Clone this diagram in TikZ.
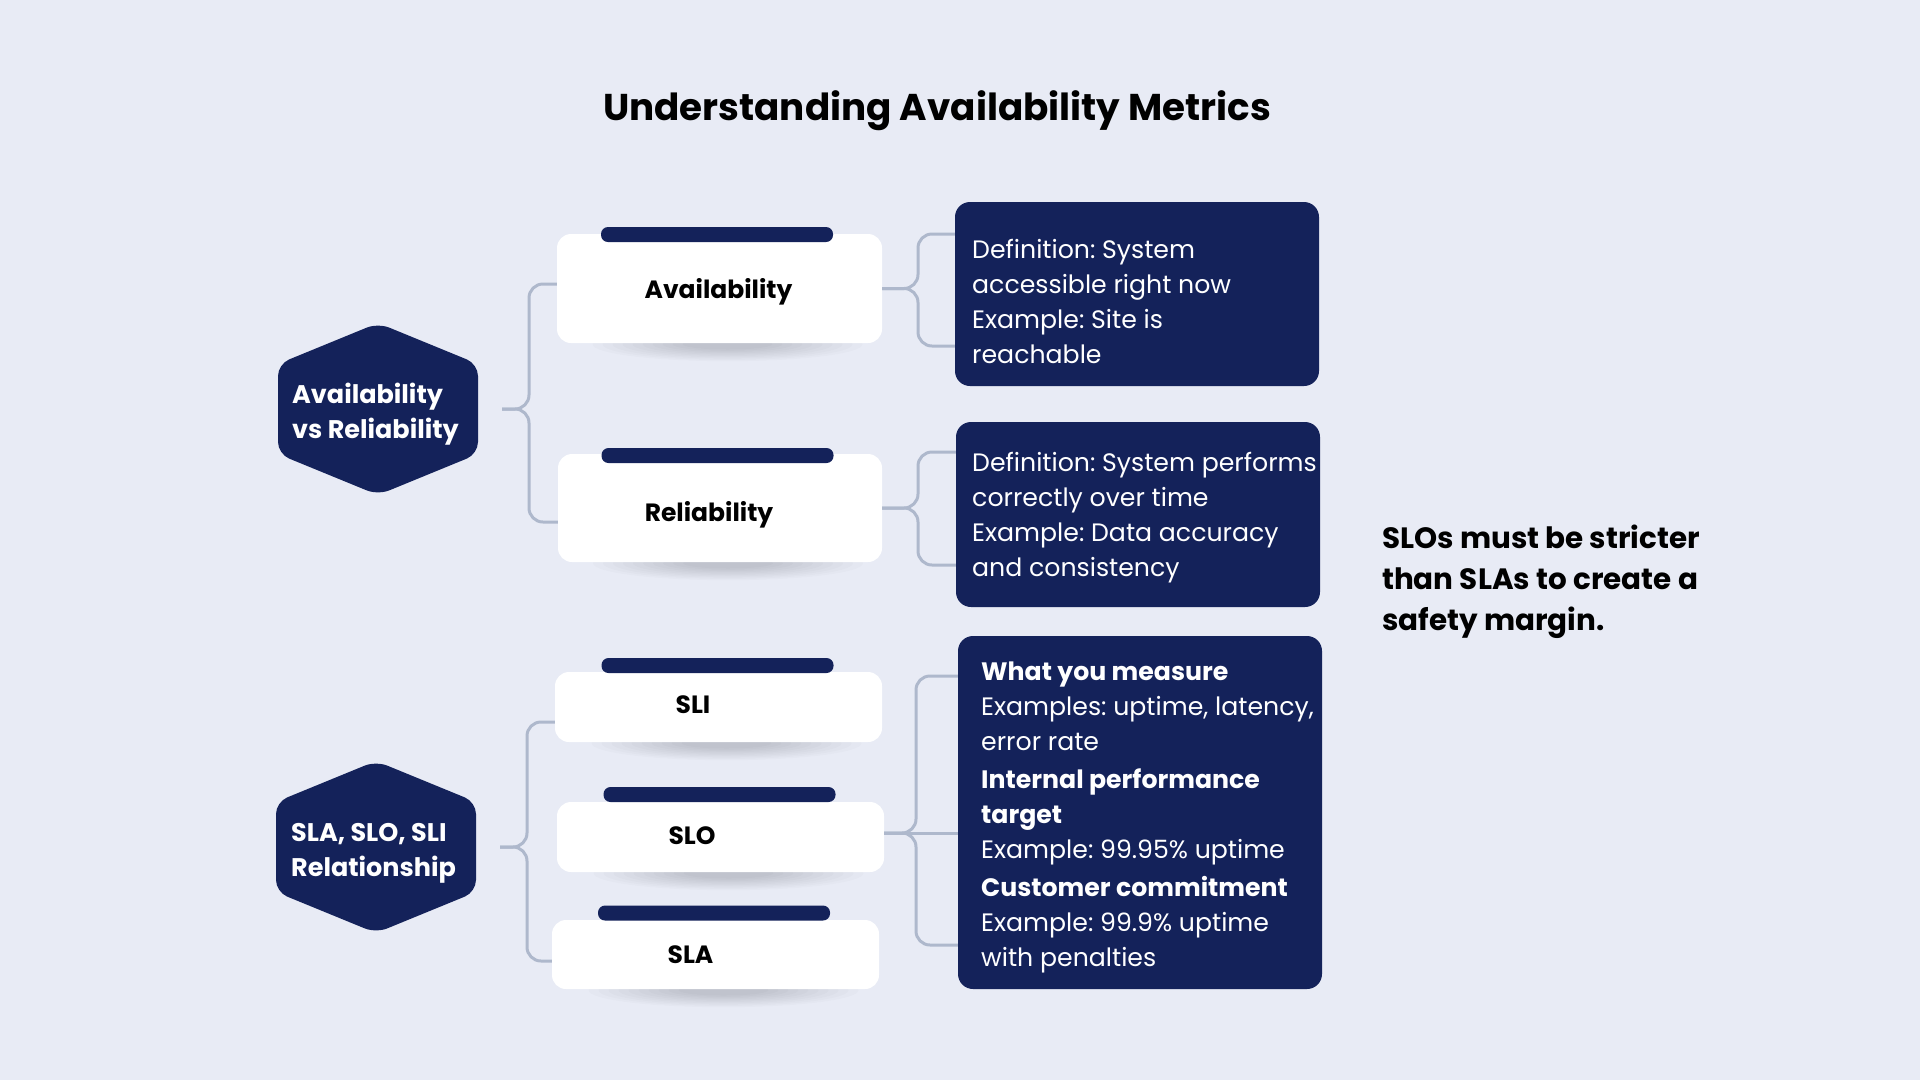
\documentclass[tikz,border=0pt]{standalone}
\usepackage{fontspec}
\setmainfont{Poppins}
\frenchspacing
\definecolor{bg}{HTML}{E8EBF5}
\definecolor{navy}{HTML}{14225A}
\definecolor{connc}{HTML}{AEB8CC}
\pgfdeclarelayer{shadowlayer}
\pgfsetlayers{shadowlayer,main}
\tikzset{
  card/.style={fill=white, rounded corners=14pt, inner sep=0pt},
  bar/.style={fill=navy, rounded corners=7pt, inner sep=0pt, minimum width=232pt, minimum height=15pt},
  dbox/.style={fill=navy, rounded corners=15pt, inner sep=0pt, minimum width=364pt},
  conn/.style={draw=connc, line width=3pt, rounded corners=14pt},
  lbl/.style={font=\fontsize{25}{30}\selectfont\bfseries, text=black, inner sep=0pt, anchor=base},
  hexlbl/.style={font=\fontsize{25.5}{35}\selectfont\bfseries, text=white, inner sep=0pt, align=left, anchor=north west},
  body/.style={font=\fontsize{25.2}{35}\selectfont, text=white, align=left, inner sep=0pt, anchor=north west},
  hexfill/.style={fill=navy, rounded corners=12pt},
  softshade/.style={fill=black, fill opacity=0.016},
}
\newcommand\cardshade[1]{%
  \begin{pgfonlayer}{shadowlayer}
    \foreach \r in {0,...,9}
      \fill[softshade] ([xshift=8pt,yshift=-1pt]#1.south) ellipse [x radius={135-10*\r}, y radius={17-1.3*\r}];
  \end{pgfonlayer}}
\begin{document}
\begin{tikzpicture}[x=1pt,y=-1pt]
\begin{pgfonlayer}{shadowlayer}
\fill[bg] (0,0) rectangle (1920,1080);
\end{pgfonlayer}
\useasboundingbox (0,0) rectangle (1920,1080);

% title
\node[font=\fontsize{37.3}{44}\selectfont\bfseries, text=black, inner sep=0pt, anchor=base] (title) at (937,120) {Understanding Availability Metrics};

% hexagons
\fill[hexfill] (378,323) -- (478,364) -- (478,454) -- (378,495) -- (278,454) -- (278,364) -- cycle;
\node[hexlbl] (hex1) at (292,383) {Availability\\vs Reliability};
\fill[hexfill] (376,761) -- (476,802) -- (476,892) -- (376,933) -- (276,892) -- (276,802) -- cycle;
\node[hexlbl] (hex2) at (291,823) {SLA, SLO, SLI\\Relationship};

% connectors (drawn before the cards)
\coordinate (h1o) at (502,409);
\coordinate (h2o) at (500,847);

% cards
\node[card, minimum width=325pt, minimum height=109pt] (cavail) at (719.5,288.5) {};
\node[bar] (bavail) at (717,234.5) {};
\node[lbl] (lavail) at (718.5,298) {Availability};

\node[card, minimum width=324pt, minimum height=108pt] (crel) at (720,508) {};
\node[bar] (brel) at (717.5,455.5) {};
\node[lbl] (lrel) at (709,521) {Reliability};

\node[card, minimum width=327pt, minimum height=70pt] (csli) at (718.5,707) {};
\node[bar] (bsli) at (717.5,665.5) {};
\node[lbl] (lsli) at (693,713) {SLI};

\node[card, minimum width=327pt, minimum height=70pt] (cslo) at (720.5,837) {};
\node[bar] (bslo) at (719.5,794.5) {};
\node[lbl] (lslo) at (692,844) {SLO};

\node[card, minimum width=327pt, minimum height=69pt] (csla) at (715.5,954.5) {};
\node[bar] (bsla) at (714,913) {};
\node[lbl] (lsla) at (690.5,963) {SLA};

\cardshade{cavail}
\cardshade{crel}
\cardshade{csli}
\cardshade{cslo}
\cardshade{csla}

% dark boxes
\node[dbox, minimum height=184pt] (box1) at (1137,294) {};
\node[body] (t1) at (972,239) {Definition: System\\accessible right now\\Example: Site is\\reachable};
\node[dbox, minimum height=185pt] (box2) at (1138,514.5) {};
\node[body] (t2) at (972,452) {Definition: System performs\\correctly over time\\Example: Data accuracy\\and consistency};
\node[dbox, minimum height=353pt] (box3) at (1140,812.5) {};
\node[body] (t3) at (981,662) {\textbf{What you measure}\\Examples: uptime, latency,\\error rate\\[3pt]\textbf{Internal performance}\\\textbf{target}\\Example: 99.95\% uptime\\[3pt]\textbf{Customer commitment}\\Example: 99.9\% uptime\\with penalties};

% note
\node[font=\fontsize{29.4}{41}\selectfont\bfseries, text=black, inner sep=0pt, align=left, anchor=north west] (note) at (1382,525) {SLOs must be stricter\\than SLAs to create a\\safety margin.};

% connectors
\draw[conn] (h1o) -- (529,409) -- (529,284) -- (cavail.west |- 0,284);
\draw[conn] (h1o) -- (529,409) -- (529,522) -- (crel.west |- 0,522);
\draw[conn] (h2o) -- (527,847) -- (527,722) -- (csli.west |- 0,722);
\draw[conn] (h2o) -- (527,847) -- (527,961) -- (csla.west |- 0,961);
\draw[conn] (cavail.east) -- (918,288.5) -- (918,234) -- (box1.west |- 0,234);
\draw[conn] (cavail.east) -- (918,288.5) -- (918,346) -- (box1.west |- 0,346);
\draw[conn] (crel.east) -- (918,508) -- (918,452) -- (box2.west |- 0,452);
\draw[conn] (crel.east) -- (918,508) -- (918,565) -- (box2.west |- 0,565);
\draw[conn] (cslo.east |- 0,833) -- (916,833) -- (916,676) -- (box3.west |- 0,676);
\draw[conn] (cslo.east |- 0,833) -- (box3.west |- 0,833);
\draw[conn] (cslo.east |- 0,833) -- (916,833) -- (916,945) -- (box3.west |- 0,945);
\end{tikzpicture}
\end{document}
